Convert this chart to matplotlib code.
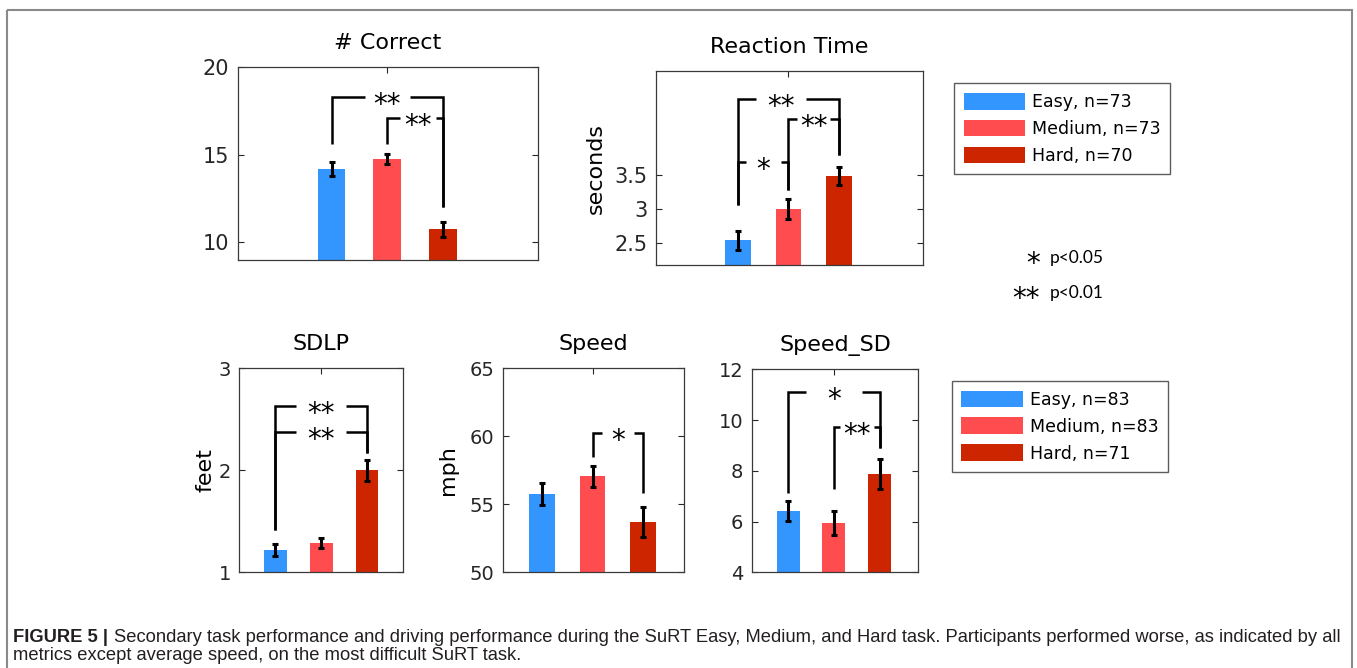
import numpy as np
import matplotlib
matplotlib.use("Agg")
import matplotlib.pyplot as plt
from matplotlib.patches import Patch, Rectangle

# groups and colours
groups = ['Easy', 'Medium', 'Hard']
bar_colors = ['#3396ff', '#ff4d4f', '#cc2500']
x_pos = [1, 2, 3]

# secondary task (top row)
correct_mean = [14.2, 14.74, 10.76]
correct_err = [0.4, 0.3, 0.43]
rt_mean = [2.54, 3.0, 3.49]
rt_err = [0.135, 0.15, 0.13]
n_top = [73, 73, 70]

# driving (bottom row)
sdlp_mean = [1.22, 1.29, 2.0]
sdlp_err = [0.06, 0.05, 0.1]
speed_mean = [55.78, 57.05, 53.7]
speed_err = [0.8, 0.75, 1.1]
speedsd_mean = [6.42, 5.94, 7.87]
speedsd_err = [0.4, 0.46, 0.59]
n_bottom = [83, 83, 71]

# significance brackets: (left bar, right bar, top y, left leg end, right leg end, stars, half gap, text shift)
correct_sig = [(1, 3, 18.26, 15.6, 12.0, '**', 0.405, 0.0),
               (2, 3, 17.1, 15.6, 12.0, '**', 0.32, 0.05)]
rt_sig = [(1, 3, 4.62, 3.06, 3.79, '**', 0.5, -0.15),
          (2, 3, 4.32, 3.28, 3.79, '**', 0.33, 0.0),
          (1, 2, 3.70, 3.06, 3.28, '*', 0.35, 0.0)]
sdlp_sig = [(1, 3, 2.63, 1.41, 2.17, '**', 0.55, 0.0),
            (1, 3, 2.38, 1.41, 2.17, '**', 0.55, 0.0)]
speed_sig = [(2, 3, 60.25, 58.5, 55.83, '*', 0.32, 0.0)]
speedsd_sig = [(1, 3, 11.11, 7.12, 8.89, '*', 0.62, 0.0),
               (2, 3, 9.71, 7.29, 8.89, '**', 0.37, 0.0)]

W, H = 1357, 668
fig = plt.figure(figsize=(W / 100, H / 100), dpi=100)


def px_axes(l, r, t, b):
    return fig.add_axes([l / W, 1 - b / H, (r - l) / W, (b - t) / H])


def draw_panel(ax, mean, err, sig, title, ylim, xlim, yticks, ylabel=None,
               tick_size=15, labelpad=4):
    ax.bar(x_pos, mean, width=0.5, color=bar_colors, zorder=2)
    ax.errorbar(x_pos, mean, yerr=err, fmt='none', ecolor='k', elinewidth=2.2,
                capsize=2.5, capthick=2.2, zorder=3)
    for l, r, y, yl, yr, stars, g, dx in sig:
        xm = (l + r) / 2 + dx
        kw = dict(color='k', lw=1.8, solid_joinstyle='miter',
                  solid_capstyle='butt', zorder=4)
        ax.plot([l, l, xm - g], [yl, y, y], **kw)
        ax.plot([xm + g, r, r], [y, y, yr], **kw)
        ax.annotate(stars, xy=(xm, y), xytext=(0, -11.5),
                    textcoords='offset points', ha='center', va='baseline',
                    fontsize=20, zorder=5)
    ax.set_xlim(*xlim)
    ax.set_ylim(*ylim)
    ax.set_yticks(yticks)
    ax.set_yticklabels([f'{t:g}' for t in yticks])
    ax.set_xticks([2])
    ax.set_xticklabels([])
    ax.tick_params(axis='both', direction='in', length=4, width=0.8,
                   colors='#262626', left=True, right=True, top=True,
                   bottom=True, labelsize=tick_size, pad=6)
    for s in ax.spines.values():
        s.set_color('#3a3a3a')
        s.set_linewidth(0.9)
    ax.set_title(title, fontsize=16, pad=13)
    if ylabel:
        ax.set_ylabel(ylabel, fontsize=16, labelpad=labelpad)


ax1 = px_axes(237.7, 538.3, 66.7, 260)
draw_panel(ax1, correct_mean, correct_err, correct_sig, '# Correct',
           (9, 20), (-0.69, 4.72), [10, 15, 20])

ax2 = px_axes(655.7, 923.3, 71, 265)
draw_panel(ax2, rt_mean, rt_err, rt_sig, 'Reaction Time',
           (2.18, 5.03), (-0.63, 4.67), [2.5, 3, 3.5], 'seconds', labelpad=6)

ax3 = px_axes(239.3, 403.3, 368.3, 572.3)
draw_panel(ax3, sdlp_mean, sdlp_err, sdlp_sig, 'SDLP',
           (1, 3), (0.22, 3.79), [1, 2, 3], 'feet', tick_size=14, labelpad=2)

ax4 = px_axes(502.7, 684, 368.3, 572.3)
draw_panel(ax4, speed_mean, speed_err, speed_sig, 'Speed',
           (50, 65), (0.22, 3.81), [50, 55, 60, 65], 'mph', tick_size=14,
           labelpad=8)

ax5 = px_axes(751.7, 918.3, 369.3, 572.3)
draw_panel(ax5, speedsd_mean, speedsd_err, speedsd_sig, 'Speed_SD',
           (4, 12), (0.2, 3.85), [4, 6, 8, 10, 12], tick_size=14)


def add_legend(ns, left, top):
    handles = [Patch(facecolor=c, edgecolor='none') for c in bar_colors]
    labels = [f'{g}, n={n}' for g, n in zip(groups, ns)]
    leg = fig.legend(handles, labels, loc='upper left',
                     bbox_to_anchor=(left / W, 1 - top / H),
                     bbox_transform=fig.transFigure, fontsize=12.5,
                     frameon=True, fancybox=False, edgecolor='#333333',
                     handlelength=3.55, handleheight=1.1, labelspacing=0.5,
                     handletextpad=0.4, borderpad=0.55, borderaxespad=0)
    leg.get_frame().set_linewidth(1)


add_legend(n_top, 954, 83.3)
add_legend(n_bottom, 951.7, 381)

# background layer: outer frame, p-value key, caption
bg = fig.add_axes([0, 0, 1, 1], zorder=-1)
bg.axis('off')
bg.set_xlim(0, W)
bg.set_ylim(H, 0)
bg.add_patch(Rectangle((7.3, 10), 1351.7 - 7.3, 700, fill=False,
                       edgecolor='#8a8a8a', lw=1.5, clip_on=False))

bg.text(1040, 272, '*', fontsize=20, ha='right', va='baseline')
bg.text(1040, 307, '**', fontsize=20, ha='right', va='baseline')
bg.text(1050, 258, 'p<0.05', fontsize=12.5, family='Lato', va='center')
bg.text(1050, 293, 'p<0.01', fontsize=12.5, family='Lato', va='center')

cap = bg.text(13, 638, 'FIGURE 5 |', fontsize=13.2, family='Liberation Sans',
              weight='bold', va='center', color='#231f20')
bg.annotate('Secondary task performance and driving performance during the SuRT '
            'Easy, Medium, and Hard task. Participants performed worse, as '
            'indicated by all', xy=(1, 0), xycoords=cap, xytext=(4, 0),
            textcoords='offset points', va='bottom', fontsize=13.2,
            family='Liberation Sans', color='#231f20')
bg.text(13, 656, 'metrics except average speed, on the most difficult SuRT task.',
        fontsize=13.2, family='Liberation Sans', va='center', color='#231f20')

fig.savefig('out.png', dpi=100)
